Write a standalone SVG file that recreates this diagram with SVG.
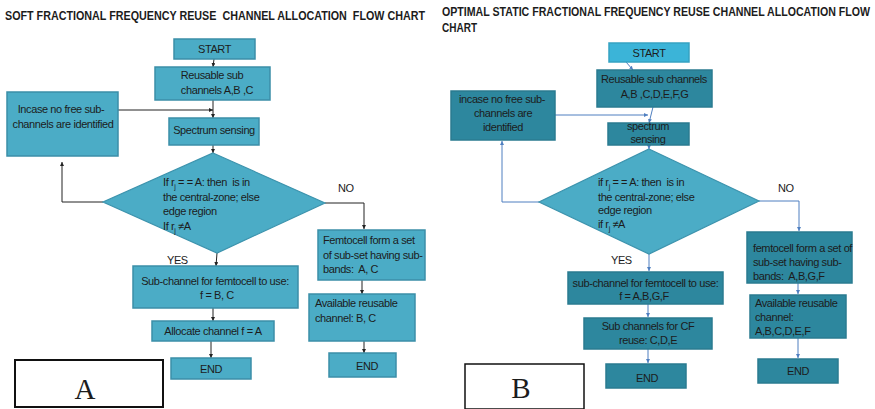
<svg xmlns="http://www.w3.org/2000/svg" width="875" height="409" viewBox="0 0 875 409">
<defs>
<marker id="ak" viewBox="0 0 6 6" refX="6" refY="3" markerWidth="4" markerHeight="4" orient="auto"><path d="M0,0 L6,3 L0,6 z" fill="#222"/></marker>
<marker id="ab" viewBox="0 0 6 6" refX="6" refY="3" markerWidth="4" markerHeight="4" orient="auto"><path d="M0,0 L6,3 L0,6 z" fill="#4f7fc0"/></marker>
</defs>
<style>
text{font-family:"Liberation Sans",Arial,sans-serif;font-size:11px;fill:#1c1c1c;letter-spacing:-0.4px}
.t{font-weight:bold;font-size:13px;letter-spacing:0}
.t2{font-weight:bold;font-size:12px;letter-spacing:0}
.m{text-anchor:middle}
.la{fill:#4bacc6;stroke:#3b8ea8;stroke-width:1.5}
.rb{fill:#2d879e;stroke:#2a7b90;stroke-width:1.5}
.rs{fill:#3bb4d8;stroke:#36a2c2;stroke-width:1.5}
.dm{fill:#4bacc6;stroke:#3c93ad;stroke-width:1.2}
.ck{fill:none;stroke:#222;stroke-width:1;marker-end:url(#ak)}
.cb{fill:none;stroke:#4f7fc0;stroke-width:1;marker-end:url(#ab)}
.lbl{fill:#fff;stroke:#111}
.big{font-family:"Liberation Serif",serif;font-size:29px;letter-spacing:0}
</style>
<text class="t" x="5" y="20" textLength="420" lengthAdjust="spacingAndGlyphs" xml:space="preserve">SOFT FRACTIONAL FREQUENCY REUSE  CHANNEL ALLOCATION  FLOW CHART</text>
<text class="t2" x="442" y="16" textLength="428" lengthAdjust="spacingAndGlyphs">OPTIMAL STATIC FRACTIONAL FREQUENCY REUSE CHANNEL ALLOCATION FLOW</text>
<text class="t2" x="442" y="32" textLength="35" lengthAdjust="spacingAndGlyphs">CHART</text>
<g id="connectors">
<path class="ck" d="M214,59 L213,67"/>
<path class="ck" d="M213,100 L213,118"/>
<path class="ck" d="M118,110 L213,110"/>
<path class="ck" d="M213,145 L213,153"/>
<path class="ck" d="M103,202 L62,202 L62,162"/>
<path class="ck" d="M325,203 L364,203 L364,229"/>
<path class="ck" d="M217,253 L216,266"/>
<path class="ck" d="M213,308 L213,321"/>
<path class="ck" d="M211,341 L211,358"/>
<path class="ck" d="M362,280 L362,294"/>
<path class="ck" d="M364,341 L364,353"/>
<path class="cb" d="M626,62 L633,70"/>
<path class="cb" d="M653,107 L649,123"/>
<path class="cb" d="M555,115 L648,115"/>
<path class="cb" d="M649,145 L649,149"/>
<path class="cb" d="M539,202 L502,202 L502,141"/>
<path class="cb" d="M759,201 L799,201 L799,231"/>
<path class="cb" d="M649,254 L649,271"/>
<path class="cb" d="M648,304 L648,317"/>
<path class="cb" d="M648,349 L648,363"/>
<path class="cb" d="M798,283 L798,294"/>
<path class="cb" d="M798,338 L798,358"/>
</g>
<g id="a-start"><rect class="la" x="174" y="39" width="81" height="20"/><text class="m" x="214.5" y="53">START</text></g>
<g id="a-reusable"><rect class="la" x="155" y="67" width="115" height="33"/><text class="m" x="212" y="79">Reusable sub</text><text class="m" x="217" y="94">channels A,B ,C</text></g>
<g id="a-incase"><rect class="la" x="7" y="92" width="111" height="64"/><text class="m" x="61" y="113">Incase no free sub-</text><text class="m" x="63" y="128">channels are identified</text></g>
<g id="a-spectrum"><rect class="la" x="169" y="118" width="90" height="27"/><text class="m" x="214" y="134">Spectrum sensing</text></g>
<g id="a-decision"><path class="dm" d="M213,153 L325,203 L217,253 L103,202 z"/>
<text x="163" y="186" xml:space="preserve">If r<tspan font-size="7" dy="3">j</tspan><tspan dy="-3"> = = A: then  is in</tspan></text>
<text x="163" y="201">the central-zone; else</text>
<text x="163" y="215">edge region</text>
<text x="163" y="230">If r<tspan font-size="7" dy="3">j</tspan><tspan dy="-3"> ≠A</tspan></text></g>
<text x="338" y="192">NO</text>
<text x="167" y="264">YES</text>
<g id="a-femto"><rect class="la" x="318" y="230" width="107" height="50"/><text x="323" y="244">Femtocell form a set</text><text x="323" y="259">of sub-set having sub-</text><text x="323" y="273" xml:space="preserve">bands:  A, C</text></g>
<g id="a-subchannel"><rect class="la" x="133" y="266" width="165" height="42"/><text class="m" x="215" y="285">Sub-channel for femtocell to use:</text><text class="m" x="217" y="299">f = B, C</text></g>
<g id="a-allocate"><rect class="la" x="152" y="321" width="122" height="20"/><text class="m" x="213" y="335">Allocate channel f = A</text></g>
<g id="a-end1"><rect class="la" x="171" y="358" width="80" height="21"/><text class="m" x="211" y="373">END</text></g>
<g id="a-available"><rect class="la" x="309" y="294" width="106" height="47"/><text x="315" y="307">Available reusable</text><text x="315" y="322">channel: B, C</text></g>
<g id="a-end2"><rect class="la" x="329" y="353" width="67" height="24"/><text class="m" x="367" y="370">END</text></g>
<g id="label-a"><rect class="lbl" x="15" y="360" width="148" height="47" stroke-width="2"/><text class="m big" x="85" y="399">A</text></g>

<g id="b-start"><rect class="rs" x="609" y="43" width="80" height="19"/><text class="m" x="649" y="57">START</text></g>
<g id="b-reusable"><rect class="rb" x="597" y="70" width="115" height="37"/><text class="m" x="654" y="83">Reusable sub channels</text><text class="m" x="654.5" y="98">A,B ,C,D,E,F,G</text></g>
<g id="b-incase"><rect class="rb" x="451" y="91" width="104" height="49"/><text class="m" x="502" y="103">incase no free sub-</text><text class="m" x="503" y="117">channels are</text><text class="m" x="503" y="131">identified</text></g>
<g id="b-spectrum"><rect class="rb" x="608" y="123" width="81" height="22"/><text class="m" x="648" y="130">spectrum</text><text class="m" x="648" y="143">sensing</text></g>
<g id="b-decision"><path class="dm" d="M649,149 L759,201 L649,254 L539,202 z"/>
<text x="598" y="186" xml:space="preserve">if r<tspan font-size="7" dy="3">j</tspan><tspan dy="-3"> = = A: then  is in</tspan></text>
<text x="598" y="201">the central-zone; else</text>
<text x="598" y="214">edge region</text>
<text x="598" y="228">if r<tspan font-size="7" dy="3">j</tspan><tspan dy="-3"> ≠A</tspan></text></g>
<text x="778" y="192">NO</text>
<text x="611" y="264">YES</text>
<g id="b-femto"><rect class="rb" x="747" y="232" width="105" height="51"/><text x="753" y="252">femtocell form a set of</text><text x="753" y="266">sub-set having sub-</text><text x="753" y="280" xml:space="preserve">bands:  A,B,G,F</text></g>
<g id="b-subchannel"><rect class="rb" x="568" y="272" width="155" height="32"/><text class="m" x="645.5" y="287">sub-channel for femtocell to use:</text><text class="m" x="644" y="300">f = A,B,G,F</text></g>
<g id="b-cf"><rect class="rb" x="584" y="318" width="128" height="31"/><text class="m" x="648" y="330">Sub channels for CF</text><text class="m" x="648" y="344">reuse: C,D,E</text></g>
<g id="b-end1"><rect class="rb" x="606" y="364" width="80" height="24"/><text class="m" x="647" y="382">END</text></g>
<g id="b-available"><rect class="rb" x="750" y="295" width="96" height="43"/><text x="755" y="307">Available reusable</text><text x="755" y="321">channel:</text><text x="755" y="335">A,B,C,D,E,F</text></g>
<g id="b-end2"><rect class="rb" x="758" y="359" width="80" height="24"/><text class="m" x="798" y="375">END</text></g>
<g id="label-b"><rect class="lbl" x="465" y="364" width="119" height="45" stroke-width="1.5"/><text class="m big" x="521" y="398">B</text></g>
</svg>
